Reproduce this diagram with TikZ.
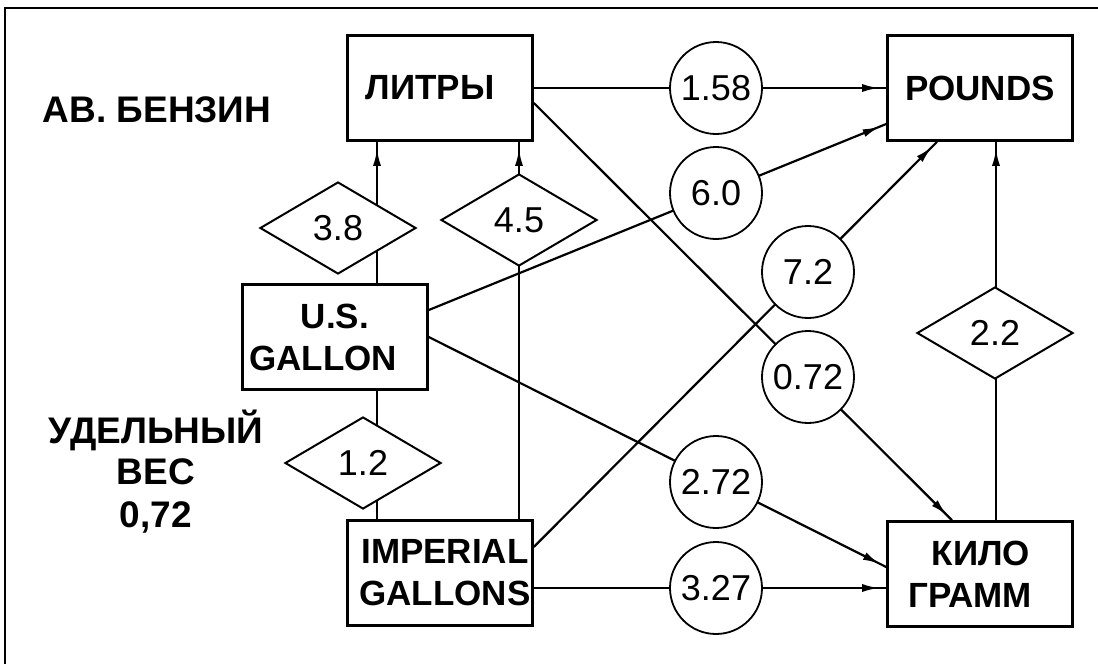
\documentclass[tikz,border=0pt]{standalone}
\usepackage{fontspec}
\setmainfont{Liberation Sans}
\usetikzlibrary{shapes.geometric,arrows.meta,decorations.markings,backgrounds}

\begin{document}
\begin{tikzpicture}[x=1pt,y=-1pt,
  unit/.style={draw, line width=2.6pt, minimum width=185pt, minimum height=105pt,
    inner sep=0pt, align=center, font=\bfseries\fontsize{35}{42}\selectfont},
  ratio/.style={circle, draw, fill=white, line width=1.8pt, minimum size=92pt,
    inner sep=0pt, font=\fontsize{36}{42}\selectfont},
  factor/.style={diamond, draw, fill=white, line width=2pt, minimum width=156pt,
    minimum height=92pt, inner sep=0pt, font=\fontsize{36}{42}\selectfont},
  note/.style={anchor=base, font=\bfseries\fontsize{37}{42}\selectfont},
  link/.style={line width=2.2pt},
  conv/.style={link, postaction={decorate},
    decoration={markings, mark=at position -7pt with {\arrow{Latex[length=17pt,width=8pt]}}}},
]
\useasboundingbox (0,0) rectangle (1098,664);

% frame
\draw[line width=2.4pt] (5,664) -- (5,8) -- (1098,8);

% units
\node[unit] (lit) at (440,88) {ЛИТРЫ\hspace*{20pt}};
\node[unit] (lb)  at (980,88) {POUNDS};
\node[unit] (usg) at (335,337) {U.S.\\GALLON\hspace*{24pt}};
\node[unit] (imp) at (440,573) {\hspace*{10pt}IMPERIAL\\\hspace*{10pt}GALLONS};
\node[unit] (kg)  at (980,574) {\hspace*{2pt}КИЛО\\ГРАММ\hspace*{20pt}};

% side notes
\node[note] (fuel) at (157,122) {АВ. БЕНЗИН};
\node[note] (sg1) at (156,443) {УДЕЛЬНЫЙ};
\node[note] (sg2) at (156,484) {ВЕС};
\node[note] (sg3) at (156,527) {0,72};

% weight factors
\node[ratio] (r158) at (716,88)  {1.58};
\node[ratio] (r60)  at (716,193) {6.0};
\node[ratio] (r72)  at (808,272) {7.2};
\node[ratio] (r072) at (808,377) {0.72};
\node[ratio] (r272) at (716,482) {2.72};
\node[ratio] (r327) at (716,588) {3.27};

% volume / mass factors
\node[factor] (d38) at (338,228) {3.8};
\node[factor] (d45) at (519,220) {4.5};
\node[factor] (d12) at (363,463) {1.2};
\node[factor] (d22) at (995,333) {2.2};

\begin{scope}[on background layer]
  \draw[conv] (lit.east) -- (lb.west);
  \draw[conv] ([yshift=27pt]usg.east) -- ([yshift=-36pt]lb.west);
  \draw[conv] ([yshift=26pt]imp.east) -- ([xshift=-43pt]lb.south);
  \draw[conv] ([yshift=-15pt]lit.east) -- ([xshift=-28pt]kg.north);
  \draw[conv] (usg.east) -- ([yshift=7pt]kg.west);
  \draw[conv] ([yshift=-15pt]imp.east) -- ([yshift=-14pt]kg.west);
  \draw[conv] ([xshift=42pt]usg.north) -- ([xshift=-63pt]lit.south);
  \draw[conv] ([xshift=79pt]imp.north) -- ([xshift=79pt]lit.south);
  \draw[link] ([xshift=-63pt]imp.north) -- ([xshift=42pt]usg.south);
  \draw[conv] ([xshift=16pt]kg.north) -- ([xshift=16pt]lb.south);
\end{scope}
\end{tikzpicture}
\end{document}
